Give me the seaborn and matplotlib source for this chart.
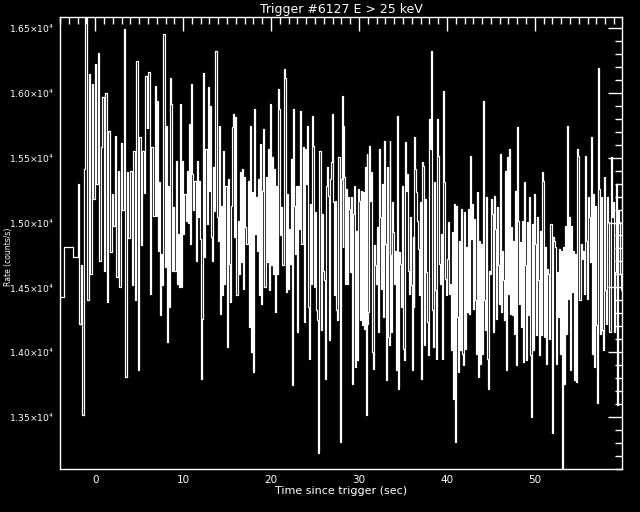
import numpy as np
import pandas as pd
import matplotlib
matplotlib.use("Agg")
import matplotlib.pyplot as plt
from matplotlib.ticker import MultipleLocator, FuncFormatter
import seaborn as sns

# pre-trigger 1.024 s bins (left edges) and counts
pre_edges = [-4.6, -3.6, -2.56]
pre_counts = [14425, 14815, 14733]

# post-trigger counts
seg_edges = [-1.98, 6.75, 17.33, 27.91, 38.49, 49.07, 59.9]

seg1 = [15297, 14220, 14669, 13515, 15412, 16579, 14400, 16143, 14605, 16066,
        15182, 16220, 15297, 16310, 14707, 15580, 15964, 14630, 16002, 14387,
        15707, 14771, 15220, 14975, 15669, 14580, 15400, 14502, 15610, 15100,
        16489, 13810, 15390, 14880, 15400, 14515, 15550, 14400, 16246, 13861,
        15660, 14830, 15550, 15230, 16130, 15730, 16160, 14450, 15580, 15050]

seg2 = [16053, 15053, 15938, 14784, 15310, 14284, 14760, 14515, 16451, 14656,
        15746, 14079, 15284, 14346, 16117, 15912, 14630, 15118, 14630, 15476,
        14528, 14912, 14502, 15912, 14502, 15476, 14912, 15220, 15010, 15400,
        15000, 15758, 14835, 16066, 15374, 15100, 15323, 14707, 15476, 15041,
        15323, 14874, 13797, 14259, 16156, 14733, 15566, 14990, 16041, 15246,
        15900, 14886, 14707, 15425, 15092, 16323, 15041, 14861, 15746, 14297,
        15130, 14438, 15553, 14528, 15284, 14040, 15336, 14682, 14387, 15130,
        15733, 15836, 14886, 15810, 14438, 15015, 14605, 15387, 14694, 15412,
        14490, 15348, 14964, 14835]

seg3 = [15323, 14194, 15746, 14002, 15233, 13848, 15874, 14912, 15194, 14784,
        15336, 14438, 15605, 14374, 15246, 15720, 14502, 15348, 14694, 15566,
        14477, 15912, 14669, 15502, 14605, 15412, 14310, 15284, 14605, 16028,
        15874, 14900, 15118, 14669, 16182, 16117, 14464, 15220, 14490, 14950,
        14682, 15489, 13746, 15874, 15130, 14759, 15284, 14156, 15284, 14950,
        15861, 14835, 15579, 14233, 15566, 15297, 15746, 14348, 13951, 15143,
        14528, 15823, 15592, 14502, 15079, 14323, 14246, 13220, 15553, 14169,
        15066, 14630, 14553, 13797, 15284, 15425, 15207, 14092, 15336, 15464,
        15836, 15156, 14438, 15169, 14323, 14246, 15502, 13310]

seg4 = [15336, 15976, 14810, 15746, 15348, 14528, 15258, 14528, 15194, 15105,
        14617, 15194, 13759, 15066, 15284, 13887, 14938, 13938, 15258, 15169,
        14246, 15246, 14207, 15233, 14182, 15425, 13515, 15528, 14220, 14310,
        15592, 15169, 15387, 14002, 13874, 14823, 14669, 14528, 14964, 14156,
        15566, 15041, 14490, 15297, 14271, 15630, 14835, 13784, 15425, 14118,
        14053, 15630, 14746, 14156, 15156, 14925, 14528, 14784, 13861, 15823,
        13720, 14771, 14682, 14348, 15284, 14028, 13938, 15618, 15246, 15374,
        14630, 14451, 15041, 14515, 13861, 14887, 14348, 15656, 15412, 15233,
        15015, 14797, 14438, 15156, 13797, 15464, 15438, 14053, 15182, 14617,
        14233, 13976, 15797, 15566, 16323, 14323, 14040]

seg5 = [15310, 14477, 13951, 15797, 15515, 14682, 14528, 14912, 13951, 16015,
        15310, 14566, 14438, 14720, 15002, 14451, 14528, 14015, 14925, 13643,
        15143, 13310, 15130, 14271, 13848, 14861, 14015, 15105, 13990, 13900,
        15079, 14028, 14810, 14310, 15105, 14297, 15515, 14874, 15143, 14336,
        15028, 14400, 13990, 15233, 13810, 14861, 13912, 14835, 13990, 15938,
        14400, 14169, 15194, 13951, 13720, 14630, 14605, 15182, 15066, 14156,
        15207, 14950, 14259, 15118, 14669, 14374, 15528, 14310, 14784, 14554,
        14246, 15400, 13861, 15502, 14451, 15566, 14297, 14964, 14284, 14861,
        14143, 15246, 13900, 15733, 15015, 14374, 14848, 14194, 15015, 13925,
        15310, 14669, 13938]

seg6 = [15002, 14284, 15194, 13976, 13502, 14989, 14015, 15220, 14835, 14130,
        15041, 14554, 13976, 14938, 14130, 15387, 15323, 14118, 14810, 13912,
        14643, 14605, 14105, 14989, 13374, 14887, 14861, 14810, 13912, 14617,
        14271, 14797, 13990, 14784, 13105, 14810, 13759, 14976, 14143, 15746,
        14412, 15041, 13861, 14976, 14464, 14784, 13784, 14759, 13771, 15566,
        15515, 14400, 14835, 14720, 14784, 14451, 15515, 14861, 14412, 15194,
        15041, 14694, 15656, 13990, 15220, 13887, 15130, 14207, 13605, 16194,
        15259, 14143, 15194, 14169, 14015, 15348, 14477, 14220, 15194, 15002,
        14156, 15502, 15041, 15156, 14156, 14617, 15297, 13592, 15092, 15002,
        14605, 14476]

segments = [seg1, seg2, seg3, seg4, seg5, seg6]

y_ticks = [13500, 14000, 14500, 15000, 15500, 16000, 16500]
x_ticks = [0, 10, 20, 30, 40, 50]

# build one step series
times = list(pre_edges)
counts = list(pre_counts)
for k, seg in enumerate(segments):
    t = np.linspace(seg_edges[k], seg_edges[k + 1], len(seg), endpoint=False)
    times.extend(t)
    counts.extend(seg)
times.append(seg_edges[-1])
counts.append(segments[-1][-1])
df = pd.DataFrame({"time": times, "counts": counts})

sns.set_style("dark")
plt.rcParams["font.family"] = ["DejaVu Sans"]

fig = plt.figure(figsize=(6.4, 5.12), dpi=100, facecolor="black")
ax = fig.add_axes([0.09375, 0.084, 0.878, 0.883])
ax.set_facecolor("black")

sns.lineplot(data=df, x="time", y="counts", drawstyle="steps-post",
             color="white", lw=0.9, estimator=None, sort=False, ax=ax)

ax.set_xlim(-4, 59.9)
ax.set_ylim(13100, 16585)
ax.grid(False)

ax.set_xticks(x_ticks)
ax.set_yticks(y_ticks)
ax.xaxis.set_minor_locator(MultipleLocator(1))
ax.yaxis.set_minor_locator(MultipleLocator(100))
ax.yaxis.set_major_formatter(FuncFormatter(lambda v, p: f"{v / 1e4:.2f}×10$^{{4}}$"))

ax.tick_params(which="both", direction="in", colors="white", top=True, right=True,
               labelsize=6.6, width=1)
ax.tick_params(which="major", length=10, pad=4)
ax.tick_params(which="minor", length=5)
ax.tick_params(axis="x", labelsize=7.5)
for s in ax.spines.values():
    s.set_color("white")
    s.set_linewidth(1)

ax.set_title("Trigger #6127 E > 25 keV", color="white", fontsize=9, pad=3)
ax.set_xlabel("Time since trigger (sec)", color="white", fontsize=8, labelpad=1)
ax.set_ylabel("Rate (counts/s)", color="white", fontsize=5.5)
ax.yaxis.set_label_coords(-0.084, 0.47)

plt.savefig("out.png", dpi=100, facecolor="black")
